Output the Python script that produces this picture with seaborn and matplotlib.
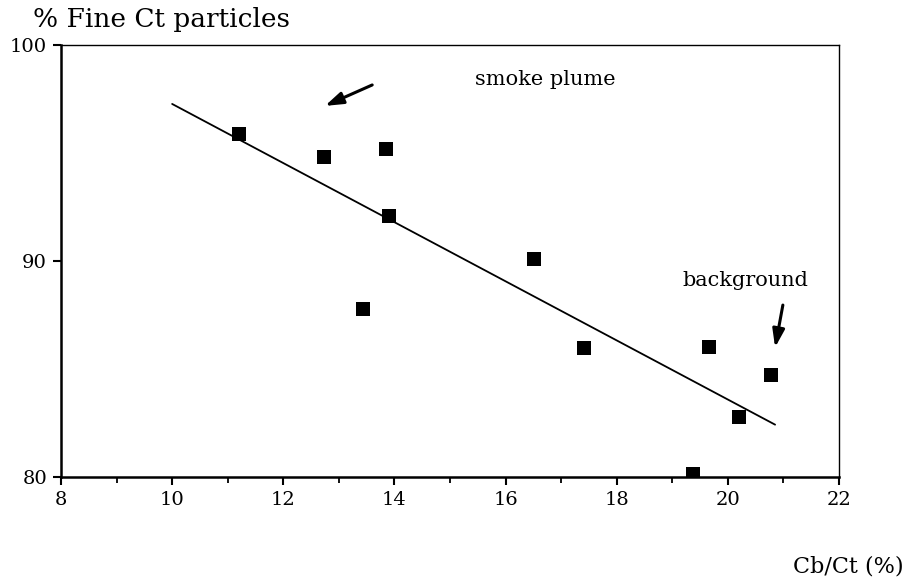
import numpy as np
import pandas as pd
import matplotlib
matplotlib.use("Agg")
import matplotlib.pyplot as plt
import seaborn as sns
from matplotlib.ticker import MultipleLocator

# Data
cb_ct = [11.2, 12.74, 13.84, 13.91, 13.43, 16.52, 17.42, 19.66, 20.78, 20.2, 19.38]
fine_ct = [95.87, 94.8, 95.17, 92.1, 87.8, 90.07, 85.99, 86.0, 84.73, 82.78, 80.14]
fit_range = [10.0, 20.85]
x_ticks = [8, 10, 12, 14, 16, 18, 20, 22]
y_ticks = [80, 90, 100]

sns.set_theme(style="white")
plt.rcParams['font.family'] = ['DejaVu Serif', 'Liberation Serif']
plt.rcParams['text.color'] = 'black'
plt.rcParams['xtick.labelcolor'] = 'black'
plt.rcParams['ytick.labelcolor'] = 'black'

df = pd.DataFrame({"x": cb_ct, "y": fine_ct})
slope, intercept = np.polyfit(df["x"], df["y"], 1)
fit_df = pd.DataFrame({"x": fit_range, "y": [slope * v + intercept for v in fit_range]})

fig = plt.figure(figsize=(9.1, 5.84), dpi=100)
W, H = 910, 584
ax = fig.add_axes([61 / W, 1 - 477 / H, (839 - 61) / W, (477 - 45) / H])

sns.lineplot(data=fit_df, x="x", y="y", ax=ax, color="black", linewidth=1.3, sort=False)
sns.scatterplot(data=df, x="x", y="y", ax=ax, marker="s", s=90, color="black",
                edgecolor="black", linewidth=0, zorder=3)

ax.set_xlim(8, 22)
ax.set_ylim(80, 100)
ax.set_xticks(x_ticks)
ax.set_yticks(y_ticks)
ax.xaxis.set_minor_locator(MultipleLocator(1))
ax.tick_params(axis="both", which="major", direction="out", length=6, width=1.5,
               color="black", labelcolor="black", labelsize=14, pad=4,
               bottom=True, left=True)
ax.tick_params(axis="x", which="minor", direction="out", length=4, width=1.3,
               color="black", bottom=True)
ax.set_xlabel("")
ax.set_ylabel("")

for side in ["left", "bottom"]:
    ax.spines[side].set_linewidth(1.8)
    ax.spines[side].set_color("black")
for side in ["top", "right"]:
    ax.spines[side].set_linewidth(1.0)
    ax.spines[side].set_color("black")
    ax.spines[side].set_linestyle((0, (6, 1)))

fig.text(33 / W, 1 - 20 / H, "% Fine Ct particles", fontsize=19, va="center", ha="left",
         color="black")
fig.text(904 / W, 1 - 566 / H, "Cb/Ct (%)", fontsize=16, va="center", ha="right",
         color="black")

ax.text(15.45, 98.38, "smoke plume", fontsize=15, va="center", ha="left", color="black")
ax.text(19.19, 89.12, "background", fontsize=15, va="center", ha="left", color="black")

ax.annotate("", xy=(12.75, 97.18), xytext=(13.6, 98.15),
            arrowprops=dict(arrowstyle="-|>,head_length=0.9,head_width=0.3",
                            color="black", lw=2.2, shrinkA=0, shrinkB=0))
ax.annotate("", xy=(20.85, 86.0), xytext=(20.99, 87.96),
            arrowprops=dict(arrowstyle="-|>,head_length=0.9,head_width=0.3",
                            color="black", lw=2.2, shrinkA=0, shrinkB=0))

fig.savefig("out.png", dpi=100, facecolor="white")
